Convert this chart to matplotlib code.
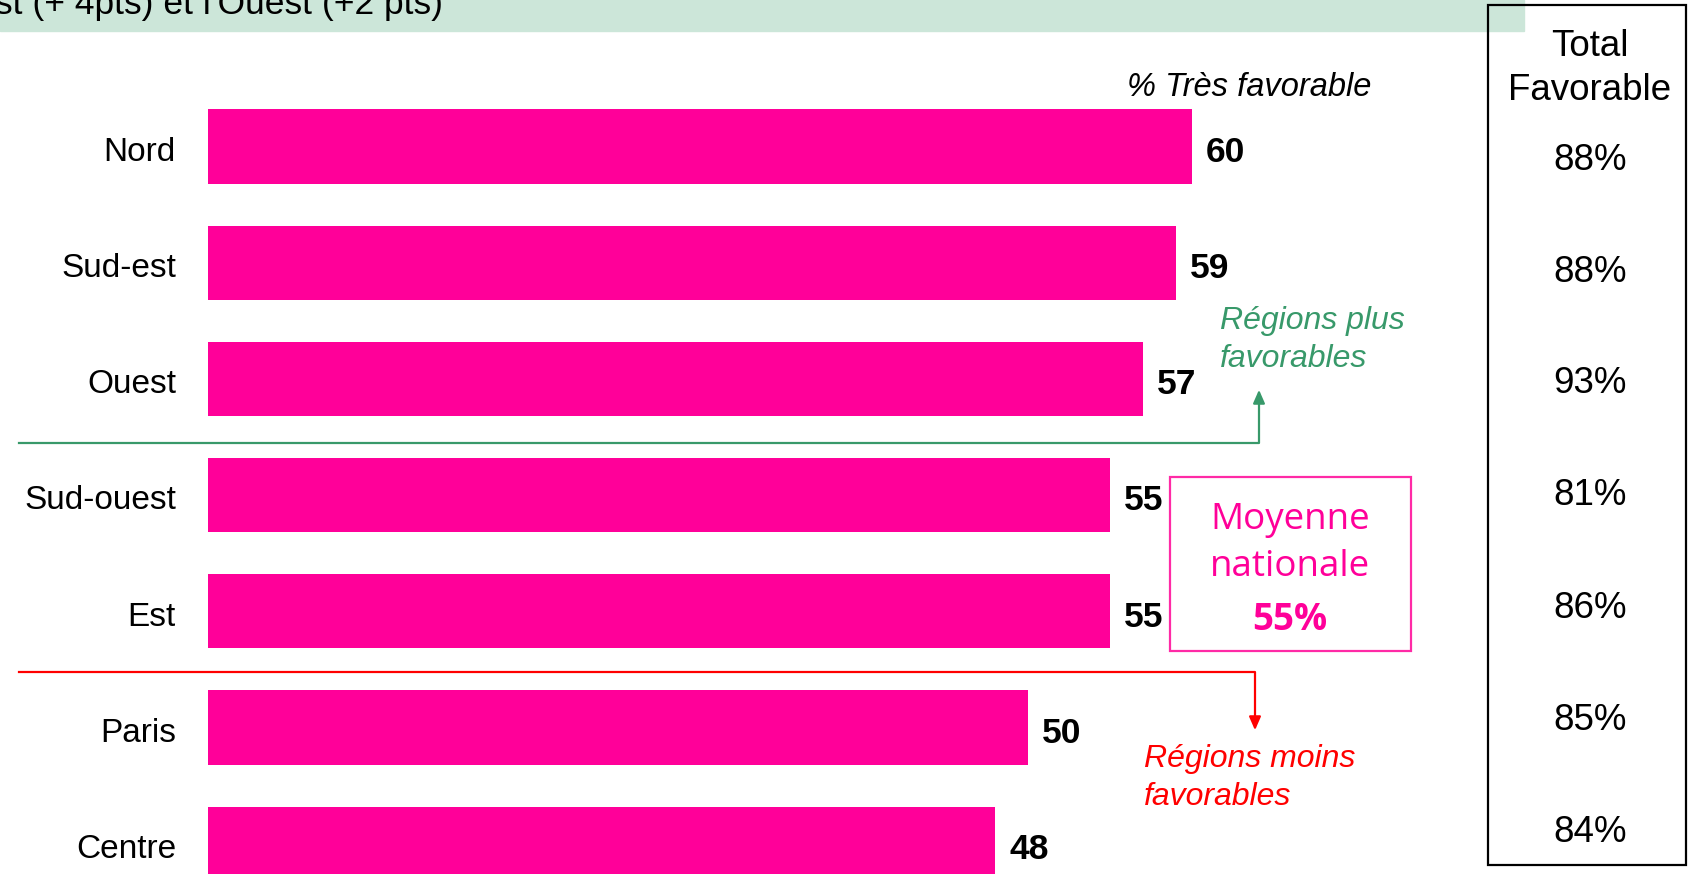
import matplotlib.pyplot as plt
from matplotlib.patches import Rectangle

# data
regions = ['Nord', 'Sud-est', 'Ouest', 'Sud-ouest', 'Est', 'Paris', 'Centre']
tres_favorable = [60, 59, 57, 55, 55, 50, 48]
total_favorable = [88, 88, 93, 81, 86, 85, 84]
moyenne = 55

W, H = 1689, 874
PINK = '#ff0099'
GREEN = '#38996a'
RED = '#ff0000'
ARIAL = 'Liberation Sans'

fig = plt.figure(figsize=(W / 100, H / 100), dpi=100)
ax = fig.add_axes([0, 0, 1, 1])
ax.axis('off')

# bar scale: 16.4 px per point, bars start at x=208 px, rows 116.2 px apart
x0, kx = 208, 16.4
y0, ky = 146.5, 116.2
ax.set_xlim(-x0 / kx, (W - x0) / kx)
ax.set_ylim((H - y0) / ky, -y0 / ky)


def fp(x, y):
    # pixel position -> figure fraction
    return x / W, 1 - y / H


pos = list(range(len(regions)))
ax.barh(pos, tres_favorable, height=0.64, color=PINK, zorder=2)

for i, (r, v) in enumerate(zip(regions, tres_favorable)):
    ax.text(-32 / kx, i + 0.02, r, ha='right', va='center_baseline',
            fontsize=24, family=ARIAL)
    ax.text(v + 14 / kx, i + 0.02, str(v), ha='left', va='center_baseline',
            fontsize=25.5, family=ARIAL, weight='bold')

# header band (clipped at top)
fig.patches.append(Rectangle(fp(0, 31), 1524 / W, 31 / H,
                             transform=fig.transFigure, color='#cce6d9',
                             zorder=0))
fig.text(*fp(-5, 14), "st (+ 4pts) et l'Ouest (+2 pts)", ha='left',
         va='baseline', fontsize=25.5, family=ARIAL)

fig.text(*fp(1371, 84), '% Très favorable', ha='right',
         va='center_baseline', fontsize=23.5, family=ARIAL, style='italic')

# right-hand box with total favorable
fig.patches.append(Rectangle(fp(1488, 865), (1686 - 1488) / W, 860 / H,
                             transform=fig.transFigure, fill=False,
                             edgecolor='black', linewidth=1.6, zorder=3))
fig.text(*fp(1590, 42), 'Total', ha='center', va='center_baseline',
         fontsize=26.5, family=ARIAL)
fig.text(*fp(1590, 86), 'Favorable', ha='center', va='center_baseline',
         fontsize=26.5, family=ARIAL)
for i, t in enumerate(total_favorable):
    fig.text(*fp(1590, 156 + 112 * i), f'{t}%', ha='center',
             va='center_baseline', fontsize=26.5, family=ARIAL)

# separator lines with arrows
fig.lines.append(plt.Line2D([19 / W, 1259 / W, 1259 / W],
                            [1 - 443 / H, 1 - 443 / H, 1 - 400 / H],
                            transform=fig.transFigure, color=GREEN,
                            linewidth=1.6))
ax.annotate('', xy=fp(1259, 387), xytext=fp(1259, 402),
            xycoords='figure fraction', textcoords='figure fraction',
            arrowprops=dict(arrowstyle='-|>,head_width=0.35,head_length=0.8',
                            color=GREEN, linewidth=1.6))
fig.text(*fp(1220, 340), 'Régions plus\nfavorables', ha='left',
         va='center', fontsize=23, family=ARIAL, style='italic',
         color=GREEN, linespacing=1.35)

fig.lines.append(plt.Line2D([19 / W, 1255 / W, 1255 / W],
                            [1 - 672 / H, 1 - 672 / H, 1 - 720 / H],
                            transform=fig.transFigure, color=RED,
                            linewidth=1.6))
ax.annotate('', xy=fp(1255, 733), xytext=fp(1255, 718),
            xycoords='figure fraction', textcoords='figure fraction',
            arrowprops=dict(arrowstyle='-|>,head_width=0.35,head_length=0.8',
                            color=RED, linewidth=1.6))
fig.text(*fp(1144, 778), 'Régions moins\nfavorables', ha='left',
         va='center', fontsize=23, family=ARIAL, style='italic',
         color=RED, linespacing=1.35)

# national average box
fig.patches.append(Rectangle(fp(1170, 651), (1411 - 1170) / W, 174 / H,
                             transform=fig.transFigure, fill=False,
                             edgecolor='#ff2aa6', linewidth=1.6))
fig.text(*fp(1290, 515), 'Moyenne', ha='center', va='center_baseline',
         fontsize=26.5, family='Open Sans', color=PINK)
fig.text(*fp(1290, 563), 'nationale', ha='center', va='center_baseline',
         fontsize=26.5, family='Open Sans', color=PINK)
fig.text(*fp(1290, 616), f'{moyenne}%', ha='center', va='center_baseline',
         fontsize=26.5, family='Open Sans', weight='bold', color=PINK)

fig.savefig('out.png', dpi=100)
